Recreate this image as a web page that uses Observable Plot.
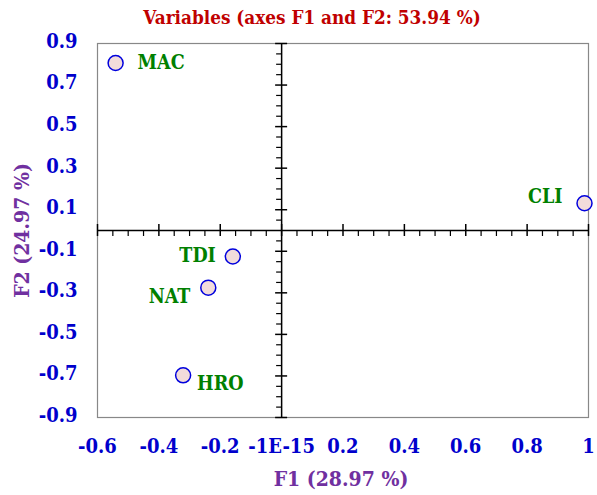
<!DOCTYPE html>
<html><head><meta charset="utf-8">
<script src="https://cdn.jsdelivr.net/npm/d3@7"></script>
<script src="https://cdn.jsdelivr.net/npm/@observablehq/plot@0.6"></script>
<style>body{margin:0;background:#fff}</style>
</head><body><div id="chart"></div>
<script>
const names = ["MAC", "CLI", "TDI", "NAT", "HRO"];
const f1 = [-0.541, 0.987, -0.159, -0.239, -0.321];
const f2 = [0.806, 0.131, -0.125, -0.275, -0.697];
const xTicks = [-0.6, -0.4, -0.2, 0, 0.2, 0.4, 0.6, 0.8, 1];
const xTickLabels = ["-0.6", "-0.4", "-0.2", "-1E-15", "0.2", "0.4", "0.6", "0.8", "1"];
const yTicks = [0.9, 0.7, 0.5, 0.3, 0.1, -0.1, -0.3, -0.5, -0.7, -0.9];
const yTickLabels = ["0.9", "0.7", "0.5", "0.3", "0.1", "-0.1", "-0.3", "-0.5", "-0.7", "-0.9"];
const titleText = "Variables (axes F1 and F2: 53.94 %)";
const xTitle = "F1 (28.97 %)";
const yTitle = "F2 (24.97 %)";

const xMinor = d3.range(-12, 21).filter(i => i % 4 !== 0).map(i => i * 0.05);
const yMinor = d3.range(-18, 19).filter(i => i !== 0 && Math.abs(i) % 4 !== 2).map(i => i * 0.05);

const pts = names.map((n, i) => ({name: n, x: f1[i], y: f2[i]}));
const F = "'DejaVu Serif Condensed', 'DejaVu Serif', serif";
const lab = (nm, anchor, dx, dy) => Plot.text(pts.filter(d => d.name === nm), {
  x: "x", y: "y", text: "name", textAnchor: anchor, dx, dy,
  fill: "#008000", fontSize: 19.5, fontWeight: "bold", fontFamily: F
});

const chart = Plot.plot({
  width: 597, height: 495,
  marginLeft: 97, marginRight: 9, marginTop: 43, marginBottom: 78,
  style: {fontFamily: F, background: "white"},
  x: {domain: [-0.6, 1], axis: null},
  y: {domain: [-0.9, 0.9], axis: null},
  marks: [
    Plot.frame({stroke: "#888", strokeWidth: 1.2}),
    Plot.ruleX([0], {stroke: "black", strokeWidth: 1.5}),
    Plot.ruleY([0], {stroke: "black", strokeWidth: 1.5}),
    Plot.ruleX(xTicks, {x: d => d, y1: 0, y2: 0, insetTop: -6, insetBottom: -6, stroke: "black", strokeWidth: 1.5}),
    Plot.ruleX(xMinor, {x: d => d, y1: 0, y2: 0, insetTop: 0, insetBottom: -6, stroke: "black", strokeWidth: 1.2}),
    Plot.ruleY(yTicks, {y: d => d, x1: 0, x2: 0, insetLeft: -6, insetRight: -6, stroke: "black", strokeWidth: 1.5}),
    Plot.ruleY(yMinor, {y: d => d, x1: 0, x2: 0, insetLeft: -5, insetRight: 0, stroke: "black", strokeWidth: 1.2}),
    Plot.text(xTicks, {x: d => d, text: (d, i) => xTickLabels[i], frameAnchor: "bottom", lineAnchor: "middle", dy: 29,
      fill: "#0000cc", fontSize: 20, fontWeight: "bold"}),
    Plot.text(yTicks, {y: d => d, text: (d, i) => yTickLabels[i], frameAnchor: "left", textAnchor: "end", lineAnchor: "middle", dx: -20, dy: -2,
      fill: "#0000cc", fontSize: 20, fontWeight: "bold"}),
    Plot.text([titleText], {text: d => d, frameAnchor: "top", lineAnchor: "middle", textAnchor: "middle", dx: -31, dy: -26,
      fill: "#c00000", fontSize: 18.8, fontWeight: "bold"}),
    Plot.text([xTitle], {text: d => d, frameAnchor: "bottom", lineAnchor: "middle", textAnchor: "middle", dx: -2, dy: 62,
      fill: "#7030a0", fontSize: 21, fontWeight: "bold"}),
    Plot.text([yTitle], {text: d => d, frameAnchor: "left", lineAnchor: "middle", textAnchor: "middle", dx: -75, rotate: -90,
      fill: "#7030a0", fontSize: 21, fontWeight: "bold"}),
    Plot.dot(pts, {x: "x", y: "y", r: 7.5, fill: "#f2dcdb", stroke: "#0000dd", strokeWidth: 1.5}),
    lab("MAC", "start", 22, 0),
    lab("TDI", "end", -17, -1),
    lab("NAT", "end", -18, 9),
    lab("HRO", "start", 14, 8),
    lab("CLI", "end", -22, -7)
  ]
});
document.getElementById("chart").appendChild(chart);
</script>
</body></html>
